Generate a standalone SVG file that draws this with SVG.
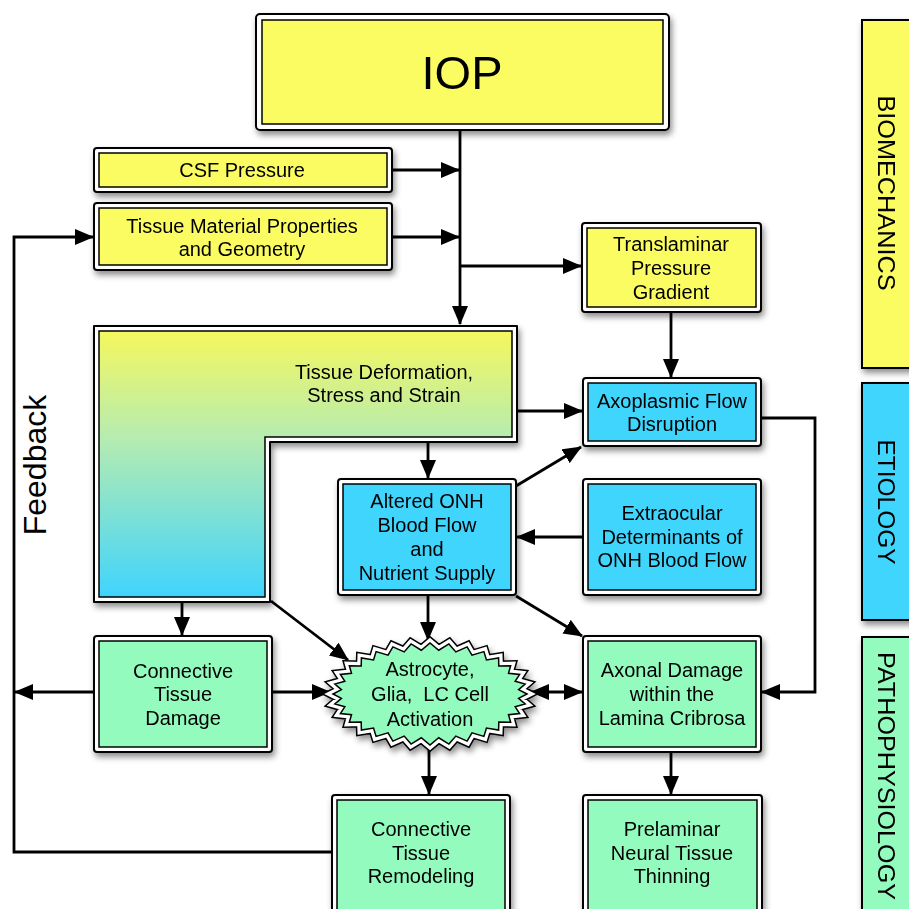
<svg xmlns="http://www.w3.org/2000/svg" width="909" height="909" viewBox="0 0 909 909">
<defs>
  <filter id="sh" x="-10%" y="-10%" width="130%" height="140%">
    <feDropShadow dx="2" dy="4" stdDeviation="3" flood-color="#000" flood-opacity="0.45"/>
  </filter>
  <linearGradient id="gr" x1="0" y1="0" x2="0" y2="1">
    <stop offset="0" stop-color="#f5f75e"/>
    <stop offset="0.4" stop-color="#b6ecb0"/>
    <stop offset="1" stop-color="#40d4fd"/>
  </linearGradient>
  <marker id="ah" markerWidth="19" markerHeight="16" refX="18" refY="8" orient="auto" markerUnits="userSpaceOnUse">
    <path d="M0,0 L19,8 L0,16 Z" fill="#000"/>
  </marker>
  <marker id="as" markerWidth="19" markerHeight="16" refX="1" refY="8" orient="auto" markerUnits="userSpaceOnUse">
    <path d="M19,0 L0,8 L19,16 Z" fill="#000"/>
  </marker>
  <style>
    .o{fill:#fff;stroke:#000;stroke-width:2}
    .y{fill:#fbfb62;stroke:#000;stroke-width:1.5}
    .b{fill:#41d5fd;stroke:#000;stroke-width:1.5}
    .g{fill:#93fbbd;stroke:#000;stroke-width:1.5}
    .t{font-family:"Liberation Sans",Arial,sans-serif;font-size:20px;fill:#000;text-anchor:middle}
    .ca{fill:none;stroke:#000;stroke-width:2.8;marker-end:url(#ah)}
  </style>
</defs>

<g id="connectors">
  <path class="ca" d="M460,130 V324"/>
  <path class="ca" d="M392,170 H459"/>
  <path class="ca" d="M392,237 H459"/>
  <path class="ca" d="M460,266 H581"/>
  <path class="ca" d="M671,312 V377"/>
  <path class="ca" d="M517,411 H582"/>
  <path class="ca" d="M428,442 V478"/>
  <path class="ca" d="M516,486 L581,447"/>
  <path class="ca" d="M583,537 H517"/>
  <path class="ca" d="M761,418 H815 V692 H762"/>
  <path class="ca" d="M182,602 V635"/>
  <path class="ca" d="M271,601 L348,660"/>
  <path class="ca" d="M428,595 V640"/>
  <path class="ca" d="M516,596 L582,636"/>
  <path class="ca" d="M94,692 H15"/>
  <path class="ca" d="M272,692 H330"/>
  <path class="ca" d="M531,692 H582" marker-start="url(#as)"/>
  <path class="ca" d="M429,749 V794"/>
  <path class="ca" d="M671,752 V794"/>
  <path class="ca" d="M333,852 H14 V237 H93"/>
</g>

<g id="iop" filter="url(#sh)">
  <rect class="o" x="256" y="14" width="413" height="116" rx="4"/>
  <rect class="y" x="262" y="20" width="401" height="104"/>
  <text class="t" x="462" y="89" style="font-size:47px">IOP</text>
</g>

<g id="csf" filter="url(#sh)">
  <rect class="o" x="94" y="148" width="298" height="44" rx="3"/>
  <rect class="y" x="99" y="153" width="288" height="34"/>
  <text class="t" x="242" y="177">CSF Pressure</text>
</g>

<g id="tmp" filter="url(#sh)">
  <rect class="o" x="94" y="203" width="298" height="67" rx="3"/>
  <rect class="y" x="99" y="208" width="288" height="57"/>
  <text class="t" x="242" y="233">Tissue Material Properties</text>
  <text class="t" x="242" y="256">and Geometry</text>
</g>

<g id="translaminar" filter="url(#sh)">
  <rect class="o" x="582" y="223" width="179" height="89" rx="3"/>
  <rect class="y" x="587" y="228" width="169" height="79"/>
  <text class="t" x="671" y="251">Translaminar</text>
  <text class="t" x="671" y="275">Pressure</text>
  <text class="t" x="671" y="299">Gradient</text>
</g>

<g id="deformation" filter="url(#sh)">
  <path class="o" d="M94,326 H517 V442 H270 V602 H94 Z" stroke-linejoin="round"/>
  <path d="M99,331 H512 V437 H265 V597 H99 Z" fill="url(#gr)" stroke="#000" stroke-width="1.5"/>
  <text class="t" x="384" y="379">Tissue Deformation,</text>
  <text class="t" x="384" y="402">Stress and Strain</text>
</g>

<g id="axoplasmic" filter="url(#sh)">
  <rect class="o" x="583" y="378" width="178" height="68" rx="3"/>
  <rect class="b" x="588" y="383" width="168" height="58"/>
  <text class="t" x="672" y="408">Axoplasmic Flow</text>
  <text class="t" x="672" y="431">Disruption</text>
</g>

<g id="onh" filter="url(#sh)">
  <rect class="o" x="338" y="479" width="178" height="116" rx="3"/>
  <rect class="b" x="343" y="484" width="168" height="106"/>
  <text class="t" x="427" y="508">Altered ONH</text>
  <text class="t" x="427" y="532">Blood Flow</text>
  <text class="t" x="427" y="556">and</text>
  <text class="t" x="427" y="580">Nutrient Supply</text>
</g>

<g id="extraocular" filter="url(#sh)">
  <rect class="o" x="583" y="479" width="178" height="116" rx="3"/>
  <rect class="b" x="588" y="484" width="168" height="106"/>
  <text class="t" x="672" y="520">Extraocular</text>
  <text class="t" x="672" y="544">Determinants of</text>
  <text class="t" x="672" y="567">ONH Blood Flow</text>
</g>

<g id="ctdamage" filter="url(#sh)">
  <rect class="o" x="94" y="636" width="178" height="116" rx="3"/>
  <rect class="g" x="99" y="641" width="168" height="106"/>
  <text class="t" x="183" y="678">Connective</text>
  <text class="t" x="183" y="701">Tissue</text>
  <text class="t" x="183" y="725">Damage</text>
</g>

<g id="astrocyte" filter="url(#sh)">
  <polygon fill="none" stroke="#000" stroke-width="11" stroke-linejoin="miter" points="527,694 518.57,689.69 525.14,684.05 515.17,681.23 519.62,674.48 508.49,673.26 510.65,665.67 498.8,666.09 498.59,657.94 486.46,659.99 483.89,651.6 471.95,655.2 467.12,646.88 455.83,651.89 448.92,643.98 438.72,650.21 430,643 421.28,650.21 411.08,643.98 404.17,651.89 392.88,646.88 388.05,655.2 376.11,651.6 373.54,659.99 361.41,657.94 361.2,666.09 349.35,665.67 351.51,673.26 340.38,674.48 344.83,681.23 334.86,684.05 341.43,689.69 333,694 341.43,698.31 334.86,703.95 344.83,706.77 340.38,713.52 351.51,714.74 349.35,722.33 361.2,721.91 361.41,730.06 373.54,728.01 376.11,736.4 388.05,732.8 392.88,741.12 404.17,736.11 411.08,744.02 421.28,737.79 430,745 438.72,737.79 448.92,744.02 455.83,736.11 467.12,741.12 471.95,732.8 483.89,736.4 486.46,728.01 498.59,730.06 498.8,721.91 510.65,722.33 508.49,714.74 519.62,713.52 515.17,706.77 525.14,703.95 518.57,698.31"/>
  <polygon fill="none" stroke="#fff" stroke-width="8" stroke-linejoin="miter" points="527,694 518.57,689.69 525.14,684.05 515.17,681.23 519.62,674.48 508.49,673.26 510.65,665.67 498.8,666.09 498.59,657.94 486.46,659.99 483.89,651.6 471.95,655.2 467.12,646.88 455.83,651.89 448.92,643.98 438.72,650.21 430,643 421.28,650.21 411.08,643.98 404.17,651.89 392.88,646.88 388.05,655.2 376.11,651.6 373.54,659.99 361.41,657.94 361.2,666.09 349.35,665.67 351.51,673.26 340.38,674.48 344.83,681.23 334.86,684.05 341.43,689.69 333,694 341.43,698.31 334.86,703.95 344.83,706.77 340.38,713.52 351.51,714.74 349.35,722.33 361.2,721.91 361.41,730.06 373.54,728.01 376.11,736.4 388.05,732.8 392.88,741.12 404.17,736.11 411.08,744.02 421.28,737.79 430,745 438.72,737.79 448.92,744.02 455.83,736.11 467.12,741.12 471.95,732.8 483.89,736.4 486.46,728.01 498.59,730.06 498.8,721.91 510.65,722.33 508.49,714.74 519.62,713.52 515.17,706.77 525.14,703.95 518.57,698.31"/>
  <polygon class="g" stroke-linejoin="miter" points="527,694 518.57,689.69 525.14,684.05 515.17,681.23 519.62,674.48 508.49,673.26 510.65,665.67 498.8,666.09 498.59,657.94 486.46,659.99 483.89,651.6 471.95,655.2 467.12,646.88 455.83,651.89 448.92,643.98 438.72,650.21 430,643 421.28,650.21 411.08,643.98 404.17,651.89 392.88,646.88 388.05,655.2 376.11,651.6 373.54,659.99 361.41,657.94 361.2,666.09 349.35,665.67 351.51,673.26 340.38,674.48 344.83,681.23 334.86,684.05 341.43,689.69 333,694 341.43,698.31 334.86,703.95 344.83,706.77 340.38,713.52 351.51,714.74 349.35,722.33 361.2,721.91 361.41,730.06 373.54,728.01 376.11,736.4 388.05,732.8 392.88,741.12 404.17,736.11 411.08,744.02 421.28,737.79 430,745 438.72,737.79 448.92,744.02 455.83,736.11 467.12,741.12 471.95,732.8 483.89,736.4 486.46,728.01 498.59,730.06 498.8,721.91 510.65,722.33 508.49,714.74 519.62,713.52 515.17,706.77 525.14,703.95 518.57,698.31"/>
  <text class="t" x="430" y="676">Astrocyte,</text>
  <text class="t" x="430" y="701" xml:space="preserve" style="white-space:pre">Glia,  LC Cell</text>
  <text class="t" x="430" y="726">Activation</text>
</g>

<g id="axonal" filter="url(#sh)">
  <rect class="o" x="583" y="636" width="178" height="116" rx="3"/>
  <rect class="g" x="588" y="641" width="168" height="106"/>
  <text class="t" x="672" y="677">Axonal Damage</text>
  <text class="t" x="672" y="701">within the</text>
  <text class="t" x="672" y="725">Lamina Cribrosa</text>
</g>

<g id="ctremodeling" filter="url(#sh)">
  <rect class="o" x="332" y="795" width="178" height="130" rx="3"/>
  <rect class="g" x="337" y="800" width="168" height="120"/>
  <text class="t" x="421" y="836">Connective</text>
  <text class="t" x="421" y="860">Tissue</text>
  <text class="t" x="421" y="883">Remodeling</text>
</g>

<g id="prelaminar" filter="url(#sh)">
  <rect class="o" x="583" y="795" width="179" height="130" rx="3"/>
  <rect class="g" x="588" y="800" width="169" height="120"/>
  <text class="t" x="672" y="836">Prelaminar</text>
  <text class="t" x="672" y="860">Neural Tissue</text>
  <text class="t" x="672" y="883">Thinning</text>
</g>

<g id="feedback">
  <text class="t" transform="translate(46,465) rotate(-90)" style="font-size:32px">Feedback</text>
</g>

<g id="biomechanics" filter="url(#sh)">
  <rect x="862" y="20" width="60" height="348" fill="#fbfb62" stroke="#000" stroke-width="2"/>
  <text class="t" transform="translate(878,193) rotate(90)" style="font-size:24px" textLength="195" lengthAdjust="spacingAndGlyphs">BIOMECHANICS</text>
</g>
<g id="etiology" filter="url(#sh)">
  <rect x="862" y="383" width="60" height="237" fill="#41d5fd" stroke="#000" stroke-width="2"/>
  <text class="t" transform="translate(878,502) rotate(90)" style="font-size:24px" textLength="125" lengthAdjust="spacingAndGlyphs">ETIOLOGY</text>
</g>
<g id="pathophysiology" filter="url(#sh)">
  <rect x="862" y="637" width="60" height="290" fill="#93fbbd" stroke="#000" stroke-width="2"/>
  <text class="t" transform="translate(878,776) rotate(90)" style="font-size:24px" textLength="248" lengthAdjust="spacingAndGlyphs">PATHOPHYSIOLOGY</text>
</g>
</svg>
